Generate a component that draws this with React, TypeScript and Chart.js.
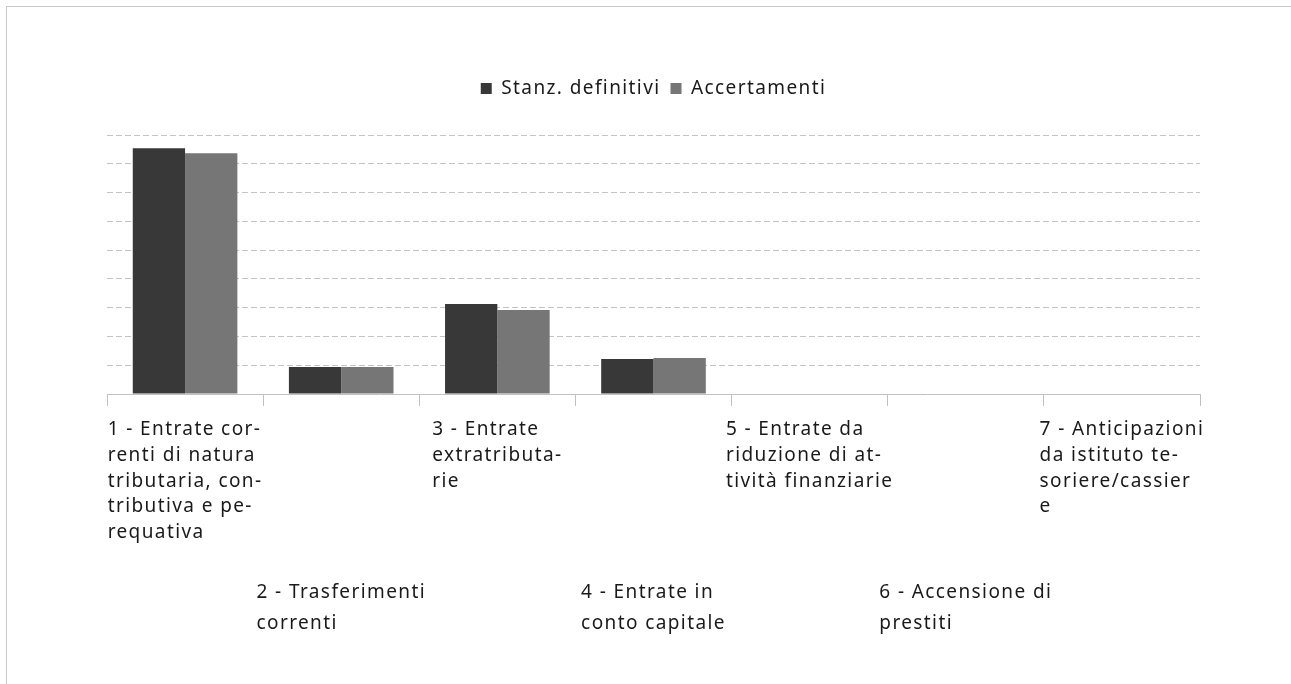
import React, { useEffect, useRef } from 'react';
import { Chart, registerables } from 'chart.js';

Chart.register(...registerables);

// ---- data ----
const CATEGORIES = [
  '1 - Entrate correnti di natura tributaria, contributiva e perequativa',
  '2 - Trasferimenti correnti',
  '3 - Entrate extratributarie',
  '4 - Entrate in conto capitale',
  '5 - Entrate da riduzione di attività finanziarie',
  '6 - Accensione di prestiti',
  '7 - Anticipazioni da istituto tesoriere/cassiere',
];

const TICK_LABEL_LINES = [
  ['1 - Entrate cor-', 'renti di natura', 'tributaria, con-', 'tributiva e pe-', 'requativa'],
  ['2 - Trasferimenti', 'correnti'],
  ['3 - Entrate', 'extratributa-', 'rie'],
  ['4 - Entrate in', 'conto capitale'],
  ['5 - Entrate da', 'riduzione di at-', 'tività finanziarie'],
  ['6 - Accensione di', 'prestiti'],
  ['7 - Anticipazioni', 'da istituto te-', 'soriere/cassier', 'e'],
];

const SERIES_NAMES = ['Stanz. definitivi', 'Accertamenti'];
const STANZ_DEFINITIVI = [8.54, 0.94, 3.13, 1.22, 0, 0, 0];
const ACCERTAMENTI = [8.37, 0.94, 2.92, 1.25, 0, 0, 0];

const Y_MIN = 0;
const Y_MAX = 9;
const Y_STEP = 1;

// ---- style ----
const FONT_FAMILY = '"Noto Sans", sans-serif';
const FONT_SIZE = 19;
const LETTER_SPACING = '1.4px';
const TEXT_COLOR = '#1a1a1a';
const COLOR_DARK = '#383838';
const COLOR_GRAY = '#767676';
const GRID_COLOR = '#c4c4c4';
const AXIS_COLOR = '#c2c2c2';

const letterSpacingPlugin = {
  id: 'letterSpacing',
  beforeLayout(chart: any) {
    (chart.ctx as any).letterSpacing = LETTER_SPACING;
  },
  beforeDraw(chart: any) {
    (chart.ctx as any).letterSpacing = LETTER_SPACING;
  },
};

const legendMarginPlugin = {
  id: 'legendMargin',
  beforeInit(chart: any) {
    const legend = chart.legend;
    if (!legend) return;
    const origFit = legend.fit;
    legend.fit = function () {
      origFit.bind(legend)();
      this.height += 27;
    };
  },
};

const categoryLabelsPlugin = {
  id: 'categoryLabels',
  afterDraw(chart: any) {
    const ctx = chart.ctx;
    const xs = chart.scales.x;
    const base = chart.chartArea.bottom;
    ctx.save();
    ctx.font = `${FONT_SIZE}px ${FONT_FAMILY}`;
    (ctx as any).letterSpacing = LETTER_SPACING;
    ctx.fillStyle = TEXT_COLOR;
    ctx.textAlign = 'left';
    ctx.textBaseline = 'middle';
    TICK_LABEL_LINES.forEach((lines, i) => {
      const cx = xs.getPixelForValue(i);
      const w = Math.max(...lines.map((l) => ctx.measureText(l).width));
      const left = cx - w / 2;
      const row = i % 2;
      const y0 = base + (row ? 199 : 36);
      const lh = row ? 31 : 25.6;
      lines.forEach((l, j) => ctx.fillText(l, left, y0 + j * lh));
    });
    ctx.restore();
  },
};

export default function App() {
  const canvasRef = useRef<HTMLCanvasElement | null>(null);

  useEffect(() => {
    if (!canvasRef.current) return;
    const chart = new Chart(canvasRef.current, {
      type: 'bar',
      data: {
        labels: CATEGORIES,
        datasets: [
          {
            label: SERIES_NAMES[0],
            data: STANZ_DEFINITIVI,
            backgroundColor: COLOR_DARK,
            borderWidth: 0,
            categoryPercentage: 0.67,
            barPercentage: 1,
          },
          {
            label: SERIES_NAMES[1],
            data: ACCERTAMENTI,
            backgroundColor: COLOR_GRAY,
            borderWidth: 0,
            categoryPercentage: 0.67,
            barPercentage: 1,
          },
        ],
      },
      options: {
        responsive: false,
        animation: false,
        devicePixelRatio: 1,
        layout: {
          padding: { left: 100, right: 91, top: 62, bottom: 278 },
        },
        plugins: {
          legend: {
            display: true,
            position: 'top',
            align: 'center',
            labels: {
              boxWidth: 11,
              boxHeight: 11,
              padding: 10,
              color: TEXT_COLOR,
              font: { family: FONT_FAMILY, size: FONT_SIZE },
            },
          },
          tooltip: { enabled: false },
          title: { display: false },
        },
        scales: {
          x: {
            offset: true,
            ticks: { display: false },
            grid: {
              offset: true,
              drawOnChartArea: false,
              drawTicks: true,
              tickLength: 12,
              color: AXIS_COLOR,
              lineWidth: 1,
            },
            border: { display: true, color: AXIS_COLOR, width: 1 },
          },
          y: {
            min: Y_MIN,
            max: Y_MAX,
            ticks: { display: false, stepSize: Y_STEP },
            grid: {
              drawTicks: false,
              color: (c: any) => (c.tick && c.tick.value === 0 ? 'rgba(0,0,0,0)' : GRID_COLOR),
              lineWidth: 1,
            },
            border: { display: false, dash: [6, 3] },
          },
        },
      } as any,
      plugins: [letterSpacingPlugin, legendMarginPlugin, categoryLabelsPlugin],
    });
    return () => chart.destroy();
  }, []);

  return (
    <div
      style={{
        position: 'absolute',
        left: 6,
        top: 6,
        width: 1285,
        height: 678,
        borderTop: '1px solid #c8c8c8',
        borderLeft: '1px solid #c8c8c8',
        boxSizing: 'border-box',
        background: '#ffffff',
      }}
    >
      <canvas ref={canvasRef} width={1284} height={677} style={{ display: 'block' }} />
    </div>
  );
}
